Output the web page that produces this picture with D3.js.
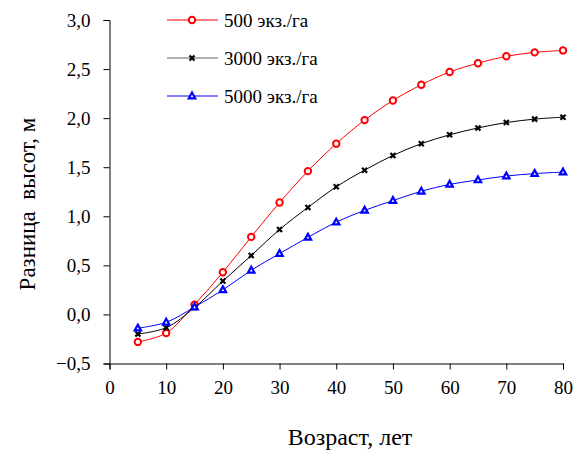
<!DOCTYPE html>
<html>
<head>
<meta charset="utf-8">
<script src="https://cdn.jsdelivr.net/npm/d3@7"></script>
<style>
  body { margin: 0; background: #fff; }
</style>
</head>
<body>
<script>
"use strict";
// ages, years
const ages = [5, 10, 15, 20, 25, 30, 35, 40, 45, 50, 55, 60, 65, 70, 75, 80];
// height difference, m
const d500 = [-0.28, -0.19, 0.10, 0.43, 0.79, 1.14, 1.46, 1.74, 1.98, 2.18, 2.34, 2.47, 2.56, 2.63, 2.67, 2.69];
const d3000 = [-0.20, -0.135, 0.07, 0.34, 0.60, 0.865, 1.09, 1.30, 1.47, 1.62, 1.74, 1.83, 1.90, 1.955, 1.99, 2.01];
const d5000 = [-0.14, -0.08, 0.075, 0.25, 0.45, 0.62, 0.785, 0.94, 1.06, 1.16, 1.255, 1.325, 1.37, 1.41, 1.435, 1.45];
const seriesNames = ["500 экз./га", "3000 экз./га", "5000 экз./га"];
const xTicks = [0, 10, 20, 30, 40, 50, 60, 70, 80];
const yTicks = [-0.5, 0, 0.5, 1.0, 1.5, 2.0, 2.5, 3.0];

const measurements = { width: 581, height: 451 };
const serif = "'Liberation Serif', 'Times New Roman', serif";

const svg = d3.select("body").append("svg")
    .attr("width", measurements.width)
    .attr("height", measurements.height)
    .attr("font-family", serif);

const scaleX = d3.scaleLinear().domain([0, 80]).range([109.5, 563]);
const scaleY = d3.scaleLinear().domain([-0.5, 3]).range([363.5, 20]);
const fmt = (d) => d3.format(".1f")(d).replace(".", ",");

// axes
const xAxis = d3.axisBottom(scaleX).tickValues(xTicks).tickSize(6).tickPadding(11);
const yAxis = d3.axisLeft(scaleY).tickValues(yTicks).tickSize(6).tickPadding(13).tickFormat(fmt);

const gx = svg.append("g").attr("transform", "translate(0," + scaleY(-0.5) + ")").call(xAxis);
const gy = svg.append("g").attr("transform", "translate(" + scaleX(0) + ",0)").call(yAxis);
[gx, gy].forEach((g) => {
    g.attr("font-family", serif).attr("font-size", 19);
    g.select(".domain").attr("stroke", "#000");
    g.selectAll(".tick line").attr("stroke", "#000");
    g.selectAll(".tick text").attr("fill", "#000");
});

// axis titles
svg.append("text")
    .attr("x", 350).attr("y", 445)
    .attr("text-anchor", "middle")
    .attr("font-size", 24)
    .text("Возраст, лет");
svg.append("text")
    .attr("transform", "translate(35,204)rotate(-90)")
    .attr("text-anchor", "middle")
    .attr("font-size", 23)
    .style("white-space", "pre")
    .text("Разница  высот, м");

// series
const series = [
    { name: seriesNames[0], values: d500, color: "#ff0000", legendColor: "#ff0000", marker: "circle" },
    { name: seriesNames[1], values: d3000, color: "#000000", legendColor: "#999999", marker: "cross" },
    { name: seriesNames[2], values: d5000, color: "#0000ff", legendColor: "#0000ff", marker: "triangle" }
];

const line = d3.line()
    .x((d) => scaleX(d[0]))
    .y((d) => scaleY(d[1]))
    .curve(d3.curveCatmullRom);

function drawMarker(g, type, color) {
    if (type === "circle") {
        g.append("circle").attr("r", 3.2).attr("fill", "#fff")
            .attr("stroke", color).attr("stroke-width", 2);
    } else if (type === "cross") {
        g.append("path").attr("d", "M-2.5,-2.5L2.5,2.5M-2.5,2.5L2.5,-2.5")
            .attr("stroke", color).attr("stroke-width", 2.2).attr("fill", "none");
    } else {
        g.append("path").attr("d", "M0,-3.5L3.2,2.3L-3.2,2.3Z")
            .attr("fill", "#fff").attr("stroke", color).attr("stroke-width", 2.2);
    }
}

series.forEach((s) => {
    const pts = ages.map((a, i) => [a, s.values[i]]);
    svg.append("path")
        .datum(pts)
        .attr("d", line)
        .attr("fill", "none")
        .attr("stroke", s.color)
        .attr("stroke-width", 1);
    svg.append("g").selectAll("g")
        .data(pts)
        .enter()
        .append("g")
        .attr("transform", (d) => "translate(" + scaleX(d[0]) + "," + scaleY(d[1]) + ")")
        .each(function() { drawMarker(d3.select(this), s.marker, s.color); });
});

// legend
series.forEach((s, i) => {
    const y = 20 + i * 38;
    svg.append("line")
        .attr("x1", 167).attr("x2", 218).attr("y1", y).attr("y2", y)
        .attr("stroke", s.legendColor).attr("stroke-width", i === 1 ? 1.5 : 1);
    const m = svg.append("g").attr("transform", "translate(192," + y + ")");
    drawMarker(m, s.marker, s.color);
    svg.append("text")
        .attr("x", 224).attr("y", y + 7)
        .attr("font-size", 19)
        .text(s.name);
});
</script>
</body>
</html>
